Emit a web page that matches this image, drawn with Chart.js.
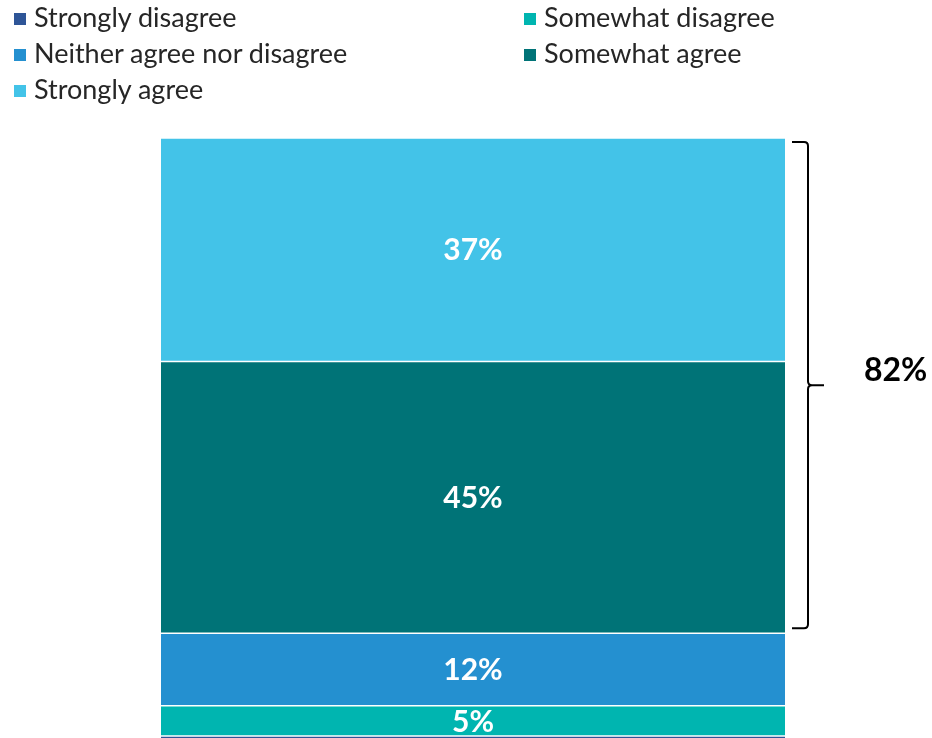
<!DOCTYPE html>
<html>
<head>
<meta charset="utf-8">
<script src="https://cdn.jsdelivr.net/npm/chart.js@4"></script>
<style>
  body { margin: 0; background: #fff; overflow: hidden; width: 932px; height: 738px; }
  #wrap { position: relative; width: 932px; height: 738px; overflow: hidden; }
  #chart { position: absolute; left: 0; top: 0; }
  #legend { position: absolute; left: 0; top: 0; width: 932px; height: 110px; font-family: Lato, sans-serif; font-size: 27px; color: #262626; }
  .item { position: absolute; height: 36px; line-height: 36px; white-space: nowrap; }
  .box { display: inline-block; width: 12px; height: 12px; margin-right: 8px; vertical-align: 2px; }
</style>
</head>
<body>
<div id="wrap">
  <canvas id="chart" width="932" height="742"></canvas>
  <div id="legend"></div>
</div>
<script>
// one stacked bar, bottom to top
var categories = [""];
var seriesNames = ["Strongly disagree", "Somewhat disagree", "Neither agree nor disagree", "Somewhat agree", "Strongly agree"];
var seriesValues = [1, 5, 12, 45, 37];
var seriesColors = ["#2E5597", "#00B5B0", "#2490D0", "#007377", "#43C3E8"];
var bracketLabel = "82%";
var bracketFrom = 18;   // bottom of "Somewhat agree"
var bracketTo = 100;    // top of "Strongly agree"

// legend, two columns, row order
var legendPos = [[14, -1], [524, -1], [14, 35], [524, 35], [14, 71]];
var legend = document.getElementById("legend");
for (let i = 0; i < seriesNames.length; i++) {
  var d = document.createElement("div");
  d.className = "item";
  d.style.left = legendPos[i][0] + "px";
  d.style.top = legendPos[i][1] + "px";
  d.innerHTML = '<span class="box" style="background:' + seriesColors[i] + '"></span>' + seriesNames[i];
  legend.appendChild(d);
}

var datasets = [];
for (let i = 0; i < seriesNames.length; i++) {
  datasets.push({
    label: seriesNames[i],
    data: [seriesValues[i]],
    backgroundColor: seriesColors[i],
    borderColor: "#ffffff",
    borderWidth: { top: 1, bottom: 1, left: 0, right: 0 },
    borderSkipped: false,
    barPercentage: 1,
    categoryPercentage: 1
  });
}

// value labels inside the segments
var valueLabels = {
  id: "valueLabels",
  afterDatasetsDraw(chart) {
    var ctx = chart.ctx;
    ctx.save();
    ctx.fillStyle = "#ffffff";
    ctx.font = "bold 30px Lato";
    ctx.textAlign = "center";
    ctx.textBaseline = "middle";
    chart.data.datasets.forEach(function(ds, i) {
      if (ds.data[0] < 3) return;
      var bar = chart.getDatasetMeta(i).data[0];
      ctx.fillText(ds.data[0] + "%", bar.x, (bar.y + bar.base) / 2 + 1);
    });
    ctx.restore();
  }
};

// curly bracket on the right
var bracket = {
  id: "bracket",
  afterDatasetsDraw(chart) {
    var ctx = chart.ctx;
    var y = chart.scales.y;
    var top = y.getPixelForValue(bracketTo) + 4;
    var bot = y.getPixelForValue(bracketFrom) - 5;
    var mid = (top + bot) / 2;
    var x = 808, xl = 792, xr = 824, r = 4;
    ctx.save();
    ctx.strokeStyle = "#000000";
    ctx.lineWidth = 2;
    ctx.beginPath();
    ctx.moveTo(xl, top);
    ctx.lineTo(x - r, top);
    ctx.quadraticCurveTo(x, top, x, top + r);
    ctx.lineTo(x, mid - r);
    ctx.quadraticCurveTo(x, mid, x + r, mid);
    ctx.lineTo(xr, mid);
    ctx.moveTo(x + r, mid);
    ctx.quadraticCurveTo(x, mid, x, mid + r);
    ctx.lineTo(x, bot - r);
    ctx.quadraticCurveTo(x, bot, x - r, bot);
    ctx.lineTo(xl, bot);
    ctx.stroke();
    ctx.fillStyle = "#000000";
    ctx.font = "bold 32px Lato";
    ctx.textAlign = "left";
    ctx.textBaseline = "middle";
    ctx.fillText(bracketLabel, 864, mid - 14);
    ctx.restore();
  }
};

new Chart("chart", {
  type: "bar",
  data: { labels: categories, datasets: datasets },
  options: {
    responsive: false,
    animation: false,
    layout: { padding: { left: 161, right: 147, top: 138, bottom: 0 } },
    plugins: { legend: { display: false }, tooltip: { enabled: false } },
    scales: {
      x: { stacked: true, display: false },
      y: { stacked: true, display: false, min: 0, max: 100 }
    }
  },
  plugins: [valueLabels, bracket]
});
</script>
</body>
</html>
